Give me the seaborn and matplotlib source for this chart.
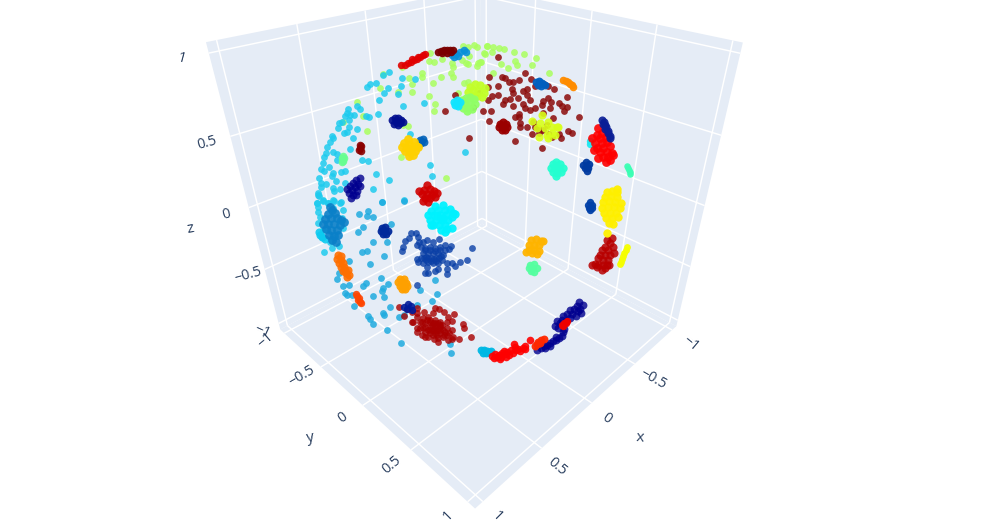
import numpy as np
import matplotlib
matplotlib.use("Agg")
import matplotlib.pyplot as plt
import seaborn as sns

shell_top = [(389,72),(383,75),(376,83),(370,84),(367,87),(388,88),(401,86),(402,78),(415,79),(384,93),(398,94),
    (379,100),(424,103),(403,106),(357,106),(360,109),(348,109),(347,113),(345,116),(350,115),(354,115),(349,120),
    (342,122),(339,123),(338,128),(349,127),(357,129),(344,133),(347,132),(332,136),(333,138),(330,142),(353,138),
    (327,147),(326,153),(333,152),(337,154),(324,157),(337,160),(323,163),(329,167),(321,169),(324,171),(333,173),
    (332,176),(341,172),(345,171),(319,178),(321,183),(326,184),(336,181),(345,183),(333,188),(334,191),(340,189),
    (321,187),(318,193),(319,196),(323,201),(328,203),(334,201),(341,202),(317,203),(318,207),(362,160),(368,161),
    (350,149),(410,134),(465,152),(430,165),(432,176),(376,174),(389,180),(373,189),(382,202),(404,200),(378,114),
    (369,117),(366,116),(318,195),(317,203),(318,212),(323,200),(328,203),(333,200),(340,203),(343,210),(342,218),
    (343,228),(339,246),(332,248),(324,252),(330,242),(322,237),(318,223),(323,230),(320,217),(333,208)]
shell_low = [(359,214),(368,211),(367,216),(373,217),(358,232),(363,227),(391,224),(404,201),(382,202),(373,242),
    (387,242),(362,252),(367,251),(384,256),(370,264),(349,261),(339,273),(337,279),(343,286),(349,285),(363,286),
    (366,283),(381,278),(388,284),(383,288),(382,291),(384,297),(373,296),(345,293),(347,295),(352,295),(354,306),
    (368,316),(370,319),(373,324),(383,313),(384,315),(390,307),(387,330),(401,343),(399,317),(404,315),(420,290),
    (432,301),(437,294),(435,280),(450,344),(451,353),(417,305)]
blue_blob = [(332,210),(328,214),(335,213),(325,219),(331,218),(337,218),(341,220),(323,224),(328,224),(334,224),
    (340,225),(326,229),(331,230),(337,230),(329,235),(334,236),(338,235),(332,240),(336,242),(344,222),(330,207)]
cyan_patch = [(322,237),(320,235),(325,239),(319,232)]
navy_left = [(360,178),(356,180),(353,183),(358,184),(350,186),(355,187),(360,186),(347,189),(352,190),(357,191),
    (349,193),(353,195),(356,195),(351,198)]
navy_upper = [(392,120),(395,118),(398,118),(401,120),(396,122),(400,123),(394,124),(398,125),(403,122)]
maroon_small = [(360,145),(360,148),(361,151),(359,150),(361,146)]
green_small = [(343,156),(342,158),(344,158),(343,161),(342,162)]
gold_blob = [(408,139),(414,142),(404,143),(409,144),(416,146),(402,147),(407,148),(412,148),(418,147),(405,151),
    (410,152),(415,151),(409,156),(413,155)]
blue_small = [(420,140),(423,139),(424,142),(421,143)]
red_upper = [(427,185),(424,190),(430,189),(419,191),(434,191),(422,194),(427,194),(432,195),(437,193),(425,198),
    (430,198),(435,197),(428,202),(423,201)]
cyan_blob = [(435,206),(443,205),(450,209),(431,211),(438,210),(445,210),(453,213),(428,215),(434,215),(440,215),
    (446,215),(452,217),(430,220),(436,220),(442,220),(448,220),(455,214),(433,225),(439,225),(445,225),(441,230),
    (447,229),(437,216),(443,218),(431,225),(445,232),(452,228)]
navy_round = [(382,228),(385,227),(381,231),(385,231),(388,231),(383,234),(386,234)]
royal_scatter = [(411,233),(416,233),(405,241),(409,238),(418,237),(403,247),(402,251),(419,242),(417,245),(423,242),
    (427,240),(433,242),(439,239),(421,247),(425,248),(430,247),(435,248),(440,247),(445,245),(451,246),(449,249),
    (423,253),(428,253),(433,253),(438,253),(443,255),(417,259),(421,258),(426,257),(431,258),(436,258),(442,260),
    (418,262),(423,263),(428,262),(433,263),(438,263),(447,263),(452,263),(460,262),(467,260),(472,248),(425,273),
    (428,273),(435,271),(438,269),(447,269),(455,266),(447,274),(427,267),(417,285),(425,250),(430,250),(435,251),
    (440,250),(424,258),(428,258),(434,259),(439,258),(426,260),(431,261),(436,261),(441,256),(445,250)]
orange_long = [(338,255),(341,256),(337,259),(341,260),(339,263),(343,263),(341,267),(344,267),(345,270),(343,271),
    (348,270),(346,273),(349,275),(347,277)]
orange_red = [(356,294),(357,296),(359,298),(358,300),(360,302),(361,303)]
orange_mid = [(400,279),(404,279),(398,282),(402,282),(406,283),(400,286),(404,286),(402,289),(405,289),(407,286)]
navy_low = [(404,307),(408,304),(411,306),(407,309),(412,310)]
red_scatter = [(399,307),(407,309),(412,312),(417,308),(417,313),(404,316),(417,317),(424,312),(423,318),(435,308),
    (439,309),(444,312),(454,314),(433,313),(428,317),(448,317),(452,321),(412,322),(413,322),(420,322),(425,323),
    (430,322),(435,320),(440,322),(447,322),(417,328),(417,332),(423,328),(430,327),(435,327),(440,327),(447,328),
    (452,330),(463,324),(464,328),(422,335),(425,337),(430,333),(435,333),(440,333),(447,335),(453,337),(459,339),
    (471,337),(434,339),(438,342),(428,337),(448,340),(452,339),(443,337),(437,330),(433,323),(438,323),(425,332),
    (443,330),(432,325),(436,325),(440,330),(433,330),(437,335),(442,325),(445,332),(430,320),(435,323),(440,325),
    (425,327),(428,330),(433,335),(438,338),(444,335),(449,333),(430,330),(435,330),(427,320),(422,322),(420,328)]
sky_patch = [(481,350),(484,350),(487,351),(483,353),(486,353),(489,352),(491,351)]
red_strip = [(492,356),(495,354),(497,357),(499,355),(502,353),(501,357),(505,354),(504,351),(507,352),(509,355),
    (511,350),(513,353),(516,350),(515,347),(518,349),(520,351),(523,348),(525,346),(525,349),(530,340),(494,358),
    (500,359),(506,357),(514,344)]
navy_strip = [(537,350),(541,348),(544,346),(547,345),(550,343),(553,341),(556,340),(559,338),(562,336),(550,346),
    (545,348),(556,337),(563,332),(564,329),(558,328),(555,326),(560,323),(557,321),(562,320),(566,321),(570,318),
    (563,316),(567,314),(572,314),(576,316),(570,310),(574,309),(578,311),(581,313),(577,306),(580,309),(583,305),
    (579,302)]
red_on_navy = [(562,325),(564,323),(567,321),(563,326),(566,323)]
red_orange = [(538,342),(541,340),(544,339),(540,343),(537,344),(535,346)]
red_right = [(612,238),(607,240),(610,243),(613,247),(605,247),(602,250),(608,250),(614,253),(600,255),(605,255),
    (610,255),(598,258),(603,260),(608,260),(595,264),(598,265),(603,265),(607,265),(592,265),(602,270),(597,267),
    (605,268),(609,265)]
yellow_blob = [(607,192),(612,191),(617,192),(605,197),(611,196),(617,197),(603,202),(609,201),(615,202),(621,203),
    (602,208),(608,207),(614,207),(620,208),(604,213),(610,213),(616,213),(606,218),(612,218),(618,217),(609,223),
    (613,224),(617,189),(607,233)]
yellow_strip = [(627,247),(626,250),(624,253),(623,256),(622,259),(621,262),(620,264)]
blue_right = [(590,202),(588,205),(592,205),(589,208),(592,208),(590,210)]
amber_blob = [(531,240),(536,239),(541,241),(529,245),(534,245),(539,245),(529,250),(534,250),(539,251),(526,252),
    (532,253),(537,254),(543,241)]
mint_blob = [(530,265),(534,264),(529,268),(533,268),(537,268),(531,271),(534,272)]
teal_blob = [(553,164),(556,162),(560,164),(551,168),(555,168),(559,168),(563,168),(553,172),(557,173),(561,172),(556,176)]
blue_mid = [(583,165),(586,162),(589,164),(585,168),(588,168),(587,171)]
teal_strip = [(627,166),(628,168),(629,170),(630,172),(630,174)]
navy_right = [(602,120),(604,122),(603,124),(605,125),(606,127),(605,129),(608,131),(608,133),(610,136),(610,138)]
red_big = [(598,128),(602,133),(597,135),(606,137),(592,138),(600,138),(607,142),(595,143),(602,143),(610,146),
    (597,148),(603,148),(594,150),(600,152),(607,152),(612,153),(603,157),(608,157),(613,155),(598,158),(606,162),(610,160)]
cyan_right = [(590,141),(590,144)]
orange_top = [(563,80),(566,81),(568,82),(570,84),(572,85),(573,87)]
blue_top = [(536,82),(539,81),(542,83),(538,85),(541,86),(545,85)]
maroon_scatter = [(498,57),(502,77),(489,77),(488,87),(498,86),(492,96),(488,100),(498,95),(509,82),(513,82),(519,80),
    (505,78),(525,73),(531,79),(535,86),(544,84),(548,86),(554,89),(567,97),(512,89),(513,93),(523,91),(527,89),(527,95),
    (530,100),(518,98),(510,99),(505,100),(503,104),(513,106),(523,104),(525,108),(530,110),(535,108),(542,105),(543,101),
    (548,98),(551,102),(550,108),(559,103),(562,106),(567,107),(564,111),(543,113),(483,111),(491,111),(489,121),(519,114),
    (515,117),(520,123),(519,117),(520,127),(527,127),(533,122),(535,127),(538,128),(543,130),(547,125),(553,118),(579,117),
    (532,134),(539,133),(549,134),(552,137),(559,134),(561,138),(568,131),(572,133),(515,141),(542,148),(455,95),(445,111),
    (473,107),(479,93),(469,138)]
maroon_blob = [(500,124),(503,122),(506,124),(499,127),(503,127),(507,127),(502,130),(505,130)]
lime_scatter = [(532,121),(540,123),(548,122),(542,115),(537,128),(545,128),(552,127),(557,127),(547,135),(552,133),
    (555,135),(539,137),(548,138),(558,127)]
lime_blob = [(470,87),(475,84),(480,85),(485,88),(468,92),(473,90),(478,91),(484,93),(472,96),(477,96),(482,97)]
green_blob = [(462,100),(466,98),(470,97),(474,99),(460,104),(465,103),(470,103),(475,104),(463,108),(468,108),(472,109),(467,111)]
cyan_mid = [(454,102),(457,100),(460,102),(455,105),(458,106)]
green_scatter = [(383,74),(380,88),(398,92),(402,67),(409,78),(412,84),(412,92),(422,73),(422,77),(430,53),(429,61),
    (434,62),(442,59),(433,83),(441,77),(429,96),(435,104),(434,111),(453,77),(451,73),(452,63),(453,67),(462,60),(466,63),
    (468,64),(463,46),(468,47),(474,45),(477,47),(487,46),(484,53),(469,56),(478,63),(481,62),(468,82),(464,83),(458,93),
    (357,102),(363,116),(343,122),(367,131),(403,125),(408,126),(401,157),(446,178),(487,46),(493,47),(499,48),(504,49),
    (492,52),(485,54),(514,52),(524,54),(536,58),(480,62),(501,64),(508,68),(515,61),(517,65),(532,65),(549,73),(493,73),(477,66)]
red_top = [(401,65),(405,65),(408,63),(411,62),(414,60),(417,59),(420,57),(423,55),(425,54),(412,59),(418,57)]
blue_far = [(452,55),(456,54),(460,52),(464,50),(458,56),(454,57),(466,52)]
maroon_top = [(438,52),(441,51),(444,50),(447,50),(450,50),(453,50),(442,53),(447,53),(451,52)]

tick_values = [-1, -0.5, 0, 0.5, 1]
tick_labels = ["\u22121", "\u22120.5", "0", "0.5", "1"]

# draw order, colour, opacity, marker area
clusters = [
    (green_scatter, "#a9ff5e", 0.85, 24), (maroon_scatter, "#8b0a0a", 0.85, 24), (lime_scatter, "#d8ff1a", 0.9, 34),
    (shell_top, "#1ecbee", 0.85, 24), (shell_low, "#1fabdf", 0.85, 24), (cyan_patch, "#0ccaf0", 0.9, 34),
    (blue_blob, "#0a80c8", 0.9, 40), (navy_left, "#00008f", 0.8, 32), (navy_upper, "#000d8f", 0.9, 32),
    (maroon_small, "#8b0000", 0.9, 30), (green_small, "#66ff90", 0.9, 30), (blue_small, "#0060b8", 0.9, 32),
    (gold_blob, "#ffd000", 0.95, 40), (red_upper, "#cf0000", 0.9, 36), (cyan_blob, "#00f2ff", 0.95, 36),
    (navy_round, "#00299b", 0.95, 32), (royal_scatter, "#0a3fa6", 0.8, 24), (orange_long, "#ff6f00", 0.9, 34),
    (orange_red, "#ff4500", 0.9, 28), (orange_mid, "#ffa000", 0.95, 34), (red_scatter, "#a80000", 0.8, 24),
    (navy_low, "#001a9a", 0.9, 28), (sky_patch, "#00b8e4", 0.95, 32), (red_strip, "#ff0000", 0.9, 30),
    (navy_strip, "#00008f", 0.8, 32), (red_on_navy, "#f00000", 0.95, 28), (red_orange, "#ff2800", 0.95, 32),
    (red_right, "#b80000", 0.85, 34), (yellow_blob, "#fff000", 0.95, 36), (yellow_strip, "#f6ff00", 0.95, 24),
    (blue_right, "#0040a8", 0.95, 28), (amber_blob, "#ffb400", 0.95, 34), (mint_blob, "#55ffa0", 0.95, 30),
    (teal_blob, "#25ffd0", 0.95, 36), (blue_mid, "#003aa0", 0.95, 30), (teal_strip, "#3cffb4", 0.95, 22),
    (cyan_right, "#20e8f0", 0.95, 28), (red_big, "#ff0000", 0.9, 40), (navy_right, "#0a1e96", 0.9, 34),
    (orange_top, "#ff8c00", 0.95, 30), (blue_top, "#0060c0", 0.95, 32), (lime_blob, "#c2ff2a", 0.95, 36),
    (green_blob, "#90ff66", 0.95, 36), (cyan_mid, "#12e4ff", 0.95, 34), (maroon_blob, "#9a0000", 0.95, 34),
    (blue_far, "#0a90d8", 0.9, 30), (red_top, "#e00000", 0.9, 28), (maroon_top, "#7a0000", 0.95, 30),
]

sns.set_theme(style="white")
plt.rcParams["font.family"] = ["Open Sans", "DejaVu Sans"]

fig = plt.figure(figsize=(9.85, 5.25), dpi=100)
ax = fig.add_axes([0, 0, 1, 1])
ax.set_xlim(0, 985)
ax.set_ylim(525, 0)
ax.axis("off")

# Fit a perspective camera from the visible corners of the box
R = 1.06
corners_3d = [(1,1,-1), (-1,1,-1), (1,-1,-1), (-1,-1,-1), (1,-1,1), (-1,-1,1), (-1,1,1)]
corners_px = [(475,508), (677,327), (281,330), (481,223), (205,42), (482,-12), (742,42)]
rows = []
for (cx, cy, cz), (u, v) in zip(corners_3d, corners_px):
    p = [cx, cy, cz, 1]
    rows.append(p + [0, 0, 0, 0] + [-u * k for k in p])
    rows.append([0, 0, 0, 0] + p + [-v * k for k in p])
cam = np.linalg.svd(np.array(rows, dtype=float))[2][-1].reshape(3, 4)


def project(x, y, z):
    h = cam @ np.array([x / R, y / R, z / R, 1.0])
    return h[0] / h[2], h[1] / h[2]


def seg(a, b, **kw):
    pa, pb = project(*a), project(*b)
    ax.plot([pa[0], pb[0]], [pa[1], pb[1]], color="white", lw=1.05, solid_capstyle="butt", zorder=2, **kw)


# panes
floor = [project(R,R,-R), project(-R,R,-R), project(-R,-R,-R), project(R,-R,-R)]
left_wall = [project(R,-R,-R), project(-R,-R,-R), project(-R,-R,R), project(R,-R,R)]
right_wall = [project(-R,R,-R), project(-R,-R,-R), project(-R,-R,R), project(-R,R,R)]
for pane in (floor, left_wall, right_wall):
    ax.fill(*zip(*pane), color="#e5ecf6", lw=0, zorder=1)

# grid on the three panes
for t in tick_values:
    seg((t, -R, -R), (t, R, -R))
    seg((-R, t, -R), (R, t, -R))
    seg((t, -R, -R), (t, -R, R))
    seg((-R, -R, t), (R, -R, t))
    seg((-R, t, -R), (-R, t, R))
    seg((-R, -R, t), (-R, R, t))

# the points
for i, (pts, col, op, size) in enumerate(clusters):
    sns.scatterplot(x=[p[0] for p in pts], y=[p[1] for p in pts], color=col, alpha=op, s=size, linewidth=0,
                    ax=ax, legend=False, zorder=3 + i * 0.01)
ax.set_xlim(0, 985)
ax.set_ylim(525, 0)
ax.axis("off")

# tick labels and axis titles
x_pos = [(691,344), (653,379), (607,418), (557,467), (497,516)]
y_pos = [(265,340), (302,376), (343,418), (392,465), (448,516)]
z_pos = [(262,331), (248,275), (226,215), (207,143), (182,59)]
x_rot = [-40, -30, -35, -40, -45]
y_rot = [40, 30, 35, 40, 45]
z_rot = [-25, 15, 15, 15, -15]
txt = dict(color="#2a3f5f", fontsize=10.2, ha="center", va="center", zorder=6)
for lab, p, r in zip(tick_labels, x_pos, x_rot):
    ax.text(p[0], p[1], lab, rotation=r, **txt)
for lab, p, r in zip(tick_labels, y_pos, y_rot):
    ax.text(p[0], p[1], lab, rotation=r, **txt)
for lab, p, r in zip(tick_labels, z_pos, z_rot):
    ax.text(p[0], p[1], lab, rotation=r, **txt)
ax.text(640, 438, "x", rotation=-5, color="#2a3f5f", fontsize=11, ha="center", va="center")
ax.text(310, 438, "y", rotation=10, color="#2a3f5f", fontsize=11, ha="center", va="center")
ax.text(190, 229, "z", rotation=10, color="#2a3f5f", fontsize=11, ha="center", va="center")

fig.savefig("out.png", dpi=100)
